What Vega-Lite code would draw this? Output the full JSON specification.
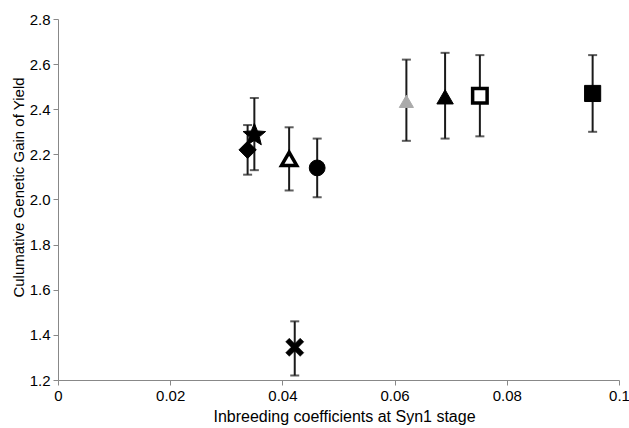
{
  "$schema": "https://vega.github.io/schema/vega-lite/v6.json",
  "autosize": "none",
  "width": 561,
  "height": 361,
  "padding": {"left": 58, "top": 19, "right": 10, "bottom": 48},
  "background": "white",
  "config": {"view": {"stroke": null}, "font": "Liberation Sans"},
  "data": {"values": [
    {"g": "a", "x": 0.0338, "y": 2.22, "lo": 2.11, "hi": 2.33},
    {"g": "b", "x": 0.035, "y": 2.285, "lo": 2.13, "hi": 2.45},
    {"g": "c", "x": 0.0412, "y": 2.18, "lo": 2.04, "hi": 2.32},
    {"g": "d", "x": 0.0422, "y": 1.345, "lo": 1.22, "hi": 1.46},
    {"g": "e", "x": 0.0462, "y": 2.14, "lo": 2.01, "hi": 2.27},
    {"g": "f", "x": 0.0621, "y": 2.435, "lo": 2.26, "hi": 2.62},
    {"g": "g", "x": 0.069, "y": 2.455, "lo": 2.27, "hi": 2.65},
    {"g": "h", "x": 0.0752, "y": 2.46, "lo": 2.28, "hi": 2.64},
    {"g": "i", "x": 0.0953, "y": 2.47, "lo": 2.3, "hi": 2.64}
  ]},
  "encoding": {
    "x": {"field": "x", "type": "quantitative",
      "scale": {"domain": [0, 0.1], "nice": false, "zero": false},
      "axis": {"title": "Inbreeding coefficients at Syn1 stage", "values": [0, 0.02, 0.04, 0.06, 0.08, 0.1],
        "grid": false, "domainColor": "#888", "tickColor": "#888", "tickSize": 5, "labelFlush": false,
        "labelFontSize": 15, "labelColor": "#000", "labelPadding": 3, "labelExpr": "datum.value == 0 ? '0' : datum.value == 0.1 ? '0.1' : format(datum.value, '.2f')",
        "titleFontSize": 16, "titleFontWeight": "normal", "titleColor": "#000",
        "titleX": 286, "titleY": 41, "titleBaseline": "alphabetic"}}
  },
  "layer": [
    {"mark": {"type": "rule", "color": "#1a1a1a", "strokeWidth": 2},
     "encoding": {"y": {"field": "lo", "type": "quantitative",
        "scale": {"domain": [1.2, 2.8], "nice": false, "zero": false},
        "axis": {"title": "Culumative Genetic Gain of Yield", "values": [1.2, 1.4, 1.6, 1.8, 2, 2.2, 2.4, 2.6, 2.8],
          "grid": false, "domainColor": "#888", "tickColor": "#888", "tickSize": 5, "labelFlush": false,
          "labelFontSize": 15, "labelColor": "#000", "labelPadding": 3,
          "titleFontSize": 15, "titleFontWeight": "normal", "titleColor": "#000",
          "titleX": -32, "titleY": 168, "titleAngle": -90, "titleAlign": "center", "titleBaseline": "bottom"}},
       "y2": {"field": "hi"}}},
    {"mark": {"type": "tick", "orient": "horizontal", "color": "#1a1a1a", "thickness": 2, "size": 9},
     "encoding": {"y": {"field": "lo", "type": "quantitative"}}},
    {"mark": {"type": "tick", "orient": "horizontal", "color": "#1a1a1a", "thickness": 2, "size": 9},
     "encoding": {"y": {"field": "hi", "type": "quantitative"}}},
    {"mark": {"type": "point", "opacity": 1, "filled": false},
     "encoding": {
       "y": {"field": "y", "type": "quantitative"},
       "shape": {"field": "g", "type": "nominal", "legend": null,
         "scale": {"domain": ["a","b","c","d","e","f","g","h","i"],
           "range": ["diamond",
             "M0,-1L0.26,-0.36L0.951,-0.309L0.42,0.137L0.588,0.809L0,0.44L-0.588,0.809L-0.42,0.137L-0.951,-0.309L-0.26,-0.36Z",
             "triangle-up",
             "M-1,-0.6L-0.6,-1L0,-0.4L0.6,-1L1,-0.6L0.4,0L1,0.6L0.6,1L0,0.4L-0.6,1L-1,0.6L-0.4,0Z",
             "circle", "triangle-up", "triangle-up", "square", "square"]}},
       "fill": {"field": "g", "type": "nominal", "legend": null,
         "scale": {"domain": ["a","b","c","d","e","f","g","h","i"],
           "range": ["#000","#000","#fff","#000","#000","#aaa","#000","#fff","#000"]}},
       "stroke": {"field": "g", "type": "nominal", "legend": null,
         "scale": {"domain": ["a","b","c","d","e","f","g","h","i"],
           "range": ["#000","#000","#000","#000","#000","#aaa","#000","#000","#000"]}},
       "strokeWidth": {"field": "g", "type": "ordinal", "legend": null,
         "scale": {"type": "ordinal", "domain": ["a","b","c","d","e","f","g","h","i"],
           "range": [1, 1, 3.5, 0.5, 1, 1, 1, 3.5, 1]}},
       "size": {"field": "g", "type": "ordinal", "legend": null,
         "scale": {"type": "ordinal", "domain": ["a","b","c","d","e","f","g","h","i"],
           "range": [300, 560, 230, 330, 250, 200, 270, 210, 260]}}
     }}
  ]
}
